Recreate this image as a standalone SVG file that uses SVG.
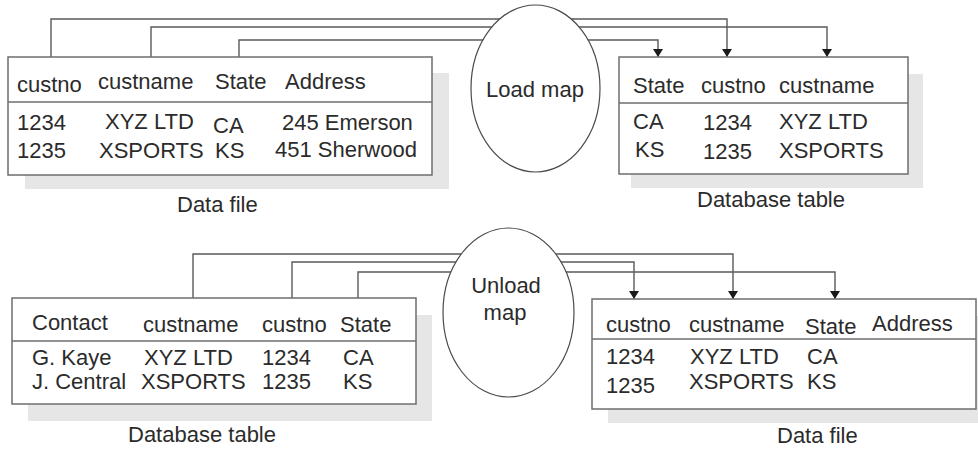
<svg xmlns="http://www.w3.org/2000/svg" width="978" height="450" viewBox="0 0 978 450">
<style>
  text { font-family: "Liberation Sans", Arial, sans-serif; font-size: 22px; fill: #2b2b2b; }
  .shadow { fill: #e6e6e6; stroke: none; }
  .box { fill: #ffffff; stroke: #6e6e6e; stroke-width: 1.5; }
  .div { stroke: #6e6e6e; stroke-width: 1.3; fill: none; }
  .map { fill: #ffffff; stroke: #4a4a4a; stroke-width: 1.2; }
  .conn { fill: none; stroke: #5a5a5a; stroke-width: 1.4; }
  .mid { text-anchor: middle; }
</style>
<defs>
  <marker id="arrow" markerUnits="userSpaceOnUse" markerWidth="8" markerHeight="10" viewBox="0 0 8 10" refX="8" refY="5" orient="auto">
    <path d="M0,0 L8,5 L0,10 z" fill="#1a1a1a"/>
  </marker>
</defs>
<rect width="978" height="450" fill="#ffffff"/>

<g id="connectors">
  <path class="conn" d="M51,57 V19 H727 V57" marker-end="url(#arrow)"/>
  <path class="conn" d="M151,57 V27 H827 V57" marker-end="url(#arrow)"/>
  <path class="conn" d="M239,57 V40 H658 V57" marker-end="url(#arrow)"/>
  <path class="conn" d="M193,298 V254 H733 V299" marker-end="url(#arrow)"/>
  <path class="conn" d="M292,298 V262 H634 V299" marker-end="url(#arrow)"/>
  <path class="conn" d="M358,298 V272 H835 V299" marker-end="url(#arrow)"/>
</g>

<g id="data-file-top">
  <rect class="shadow" x="25" y="73" width="424" height="116"/>
  <rect class="box" x="8" y="57" width="424" height="118"/>
  <line class="div" x1="8" y1="102" x2="432" y2="102"/>
  <text x="17" y="92">custno</text>
  <text x="98" y="89">custname</text>
  <text x="215" y="89">State</text>
  <text x="285" y="89">Address</text>
  <text x="17" y="130">1234</text>
  <text x="105" y="129">XYZ LTD</text>
  <text x="213" y="133">CA</text>
  <text x="282" y="130">245 Emerson</text>
  <text x="17" y="158">1235</text>
  <text x="99" y="158">XSPORTS</text>
  <text x="215" y="158">KS</text>
  <text x="275" y="157">451 Sherwood</text>
  <text x="177" y="212">Data file</text>
</g>

<g id="load-map">
  <ellipse class="map" cx="535.5" cy="88.5" rx="64.5" ry="83.5"/>
  <text class="mid" x="535" y="97">Load map</text>
</g>

<g id="database-table-top">
  <rect class="shadow" x="631" y="74" width="292" height="114"/>
  <rect class="box" x="619" y="57" width="289" height="117"/>
  <line class="div" x1="619" y1="103" x2="908" y2="103"/>
  <text x="633" y="93">State</text>
  <text x="701" y="93">custno</text>
  <text x="779" y="93">custname</text>
  <text x="633" y="129">CA</text>
  <text x="703" y="130">1234</text>
  <text x="779" y="129">XYZ LTD</text>
  <text x="635" y="157">KS</text>
  <text x="703" y="159">1235</text>
  <text x="779" y="158">XSPORTS</text>
  <text x="697" y="207">Database table</text>
</g>

<g id="database-table-bottom">
  <rect class="shadow" x="28" y="315" width="404" height="106"/>
  <rect class="box" x="12" y="298" width="404" height="106"/>
  <line class="div" x1="12" y1="341" x2="416" y2="341"/>
  <text x="32" y="330">Contact</text>
  <text x="143" y="332">custname</text>
  <text x="262" y="332">custno</text>
  <text x="340" y="332">State</text>
  <text x="32" y="365">G. Kaye</text>
  <text x="144" y="365">XYZ LTD</text>
  <text x="262" y="365">1234</text>
  <text x="343" y="365">CA</text>
  <text x="32" y="389">J. Central</text>
  <text x="141" y="389">XSPORTS</text>
  <text x="262" y="389">1235</text>
  <text x="343" y="389">KS</text>
  <text x="128" y="442">Database table</text>
</g>

<g id="unload-map">
  <ellipse class="map" cx="508.5" cy="312.5" rx="65.5" ry="84.5"/>
  <text class="mid" x="506" y="293">Unload</text>
  <text class="mid" x="505" y="320">map</text>
</g>

<g id="data-file-bottom">
  <rect class="shadow" x="608" y="316" width="380" height="107"/>
  <rect class="box" x="592" y="299" width="384" height="110"/>
  <line class="div" x1="592" y1="339" x2="976" y2="339"/>
  <text x="606" y="332">custno</text>
  <text x="689" y="332">custname</text>
  <text x="805" y="334">State</text>
  <text x="872" y="331">Address</text>
  <text x="606" y="364">1234</text>
  <text x="690" y="364">XYZ LTD</text>
  <text x="807" y="364">CA</text>
  <text x="606" y="393">1235</text>
  <text x="689" y="389">XSPORTS</text>
  <text x="807" y="389">KS</text>
  <text x="777" y="443">Data file</text>
</g>
</svg>
